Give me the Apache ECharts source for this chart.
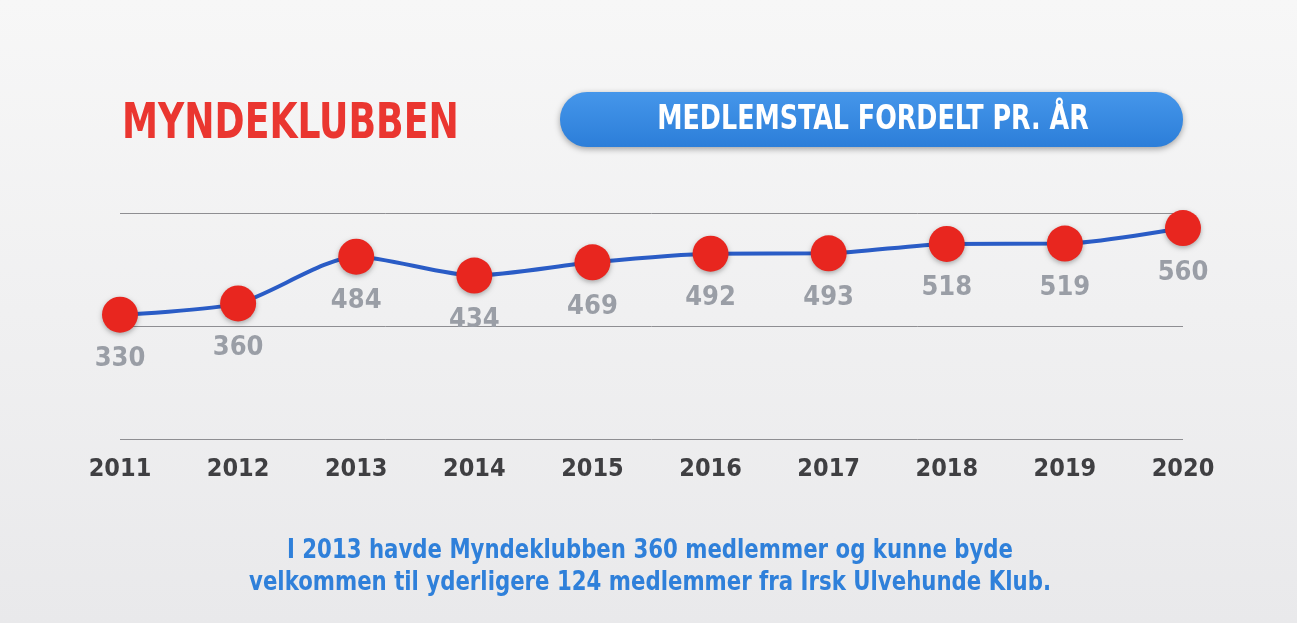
<!DOCTYPE html>
<html>
<head>
<meta charset="utf-8">
<script src="https://cdn.jsdelivr.net/npm/echarts@6/dist/echarts.min.js"></script>
<style>
html,body{margin:0;padding:0;}
#c{width:1297px;height:623px;}
</style>
</head>
<body>
<div id="c"></div>
<script>
const years = ['2011','2012','2013','2014','2015','2016','2017','2018','2019','2020'];
const members = [330, 360, 484, 434, 469, 492, 493, 518, 519, 560];
const yTicks = [0, 300, 600];
const titleText = 'MYNDEKLUBBEN';
const pillText = 'MEDLEMSTAL FORDELT PR. ÅR';
const noteLines = ['I 2013 havde Myndeklubben 360 medlemmer og kunne byde',
                   'velkommen til yderligere 124 medlemmer fra Irsk Ulvehunde Klub.'];

const FONT = '"DejaVu Sans Condensed", "Liberation Sans Narrow", "Roboto", sans-serif';
const chart = echarts.init(document.getElementById('c'));
chart.setOption({
  backgroundColor: new echarts.graphic.LinearGradient(0,0,0,1,[
    {offset:0,color:'#f7f7f7'},{offset:1,color:'#e9e9eb'}]),
  animation: false,
  grid: {left:120, right:114, top:213, bottom:184, containLabel:false},
  xAxis: {
    type:'category', data: years, boundaryGap:false,
    axisLine:{show:false}, axisTick:{show:false},
    axisLabel:{color:'#3f3f42', fontFamily:FONT, fontWeight:'bold', fontSize:25, margin:18}
  },
  yAxis: {
    type:'value', min:yTicks[0], max:yTicks[yTicks.length-1], interval:yTicks[1]-yTicks[0],
    axisLabel:{show:false}, axisLine:{show:false}, axisTick:{show:false},
    splitLine:{lineStyle:{color:'#8e8e92', width:1}}
  },
  series: [{
    type:'line', data: members, smooth:0.25,
    symbol:'circle', symbolSize:36,
    lineStyle:{color:'#2a5cc6', width:4},
    itemStyle:{color:'#e8261f', shadowBlur:5, shadowColor:'rgba(0,0,0,0.3)', shadowOffsetY:2},
    label:{show:true, position:'bottom', distance:13, color:'#9a9ea6',
      fontFamily:FONT, fontWeight:'bold', fontSize:27}
  }],
  graphic: [
    {type:'text', x:122, y:100, scaleX:0.805,
      style:{text:titleText, fill:'#ea3630', font:'bold 50px ' + FONT}},
    {type:'rect', shape:{x:560, y:92, width:623, height:55, r:27},
      style:{fill:new echarts.graphic.LinearGradient(0,0,0,1,[
        {offset:0,color:'#4596ea'},{offset:1,color:'#2c7ed9'}]),
        shadowBlur:6, shadowColor:'rgba(0,0,0,0.35)', shadowOffsetY:2}},
    {type:'text', x:873, y:120, scaleX:0.83,
      style:{text:pillText, fill:'#ffffff', font:'bold 34px ' + FONT,
        align:'center', verticalAlign:'middle'}},
    {type:'text', x:650, y:551, scaleX:0.91,
      style:{text:noteLines[0], fill:'#2f80da', font:'bold 26px ' + FONT,
        align:'center', verticalAlign:'middle'}},
    {type:'text', x:650, y:583, scaleX:0.91,
      style:{text:noteLines[1], fill:'#2f80da', font:'bold 26px ' + FONT,
        align:'center', verticalAlign:'middle'}}
  ]
});
</script>
</body>
</html>
